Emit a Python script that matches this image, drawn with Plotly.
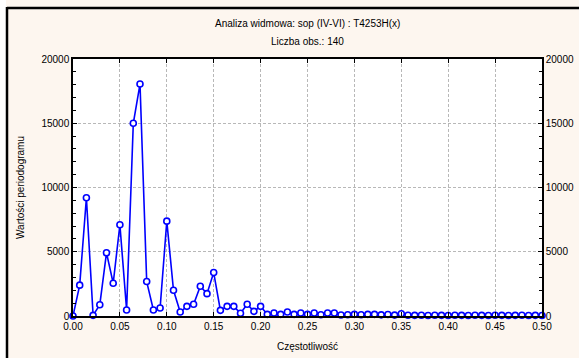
import plotly.graph_objects as go

N_OBS = 140
harmonics = list(range(0, 71))
periodogram = [
    0, 2400, 9200, 50, 880, 4920, 2550, 7100, 470, 15000,
    18050, 2680, 470, 620, 7380, 2000, 310, 750, 910, 2310,
    1740, 3380, 440, 750, 750, 210, 910, 360, 750, 130,
    230, 130, 310, 130, 230, 130, 230, 100, 230, 230,
    80, 100, 130, 100, 130, 130, 90, 120, 70, 180,
    60, 50, 60, 40, 60, 50, 40, 60, 50, 40,
    60, 50, 40, 60, 50, 40, 50, 60, 40, 50, 40,
]
frequency = [k / N_OBS for k in harmonics]
x_ticks = [i * 0.05 for i in range(11)]
y_ticks = [0, 5000, 10000, 15000, 20000]

title_1 = "Analiza widmowa: sop (IV-VI) : T4253H(x)"
title_2 = "Liczba obs.: 140"
x_title = "Częstotliwość"
y_title = "Wartości periodogramu"

W, H = 579, 358
L, R, T, B = 73, 37, 59, 42
pw, ph = W - L - R, H - T - B

def px_x(p):
    return (p - L) / pw

def px_y(p):
    return (H - B - p) / ph

font = dict(family="Liberation Sans, Arial, sans-serif", size=10, color="#000000")

fig = go.Figure()
fig.add_trace(go.Scatter(
    x=frequency, y=periodogram, mode="lines+markers",
    line=dict(color="#0000FF", width=1.6),
    marker=dict(symbol="circle", size=6, color="#FFFFFF",
                line=dict(color="#0000FF", width=1.6)),
    cliponaxis=False, showlegend=False,
))
fig.add_trace(go.Scatter(x=[0], y=[0], yaxis="y2", mode="markers",
                         marker=dict(opacity=0), showlegend=False, hoverinfo="skip"))

axis_common = dict(showline=True, linecolor="#000000", linewidth=1.5,
                   ticks="inside", ticklen=4, tickcolor="#000000", tickwidth=1,
                   zeroline=False, tickfont=font, automargin=False)

fig.update_layout(
    width=W, height=H,
    margin=dict(l=L, r=R, t=T, b=B),
    paper_bgcolor="#FDF6EF", plot_bgcolor="#FFFFFF",
    font=font,
    xaxis=dict(range=[0, 0.5], tickvals=x_ticks, tickformat=".2f", mirror="ticks",
               showgrid=True, gridcolor="#B8B8B8", griddash="3px,2px", gridwidth=1,
               title=dict(text=x_title, font=font, standoff=12),
               **axis_common),
    yaxis=dict(range=[0, 20000], tickvals=y_ticks, tickformat="d", mirror=True,
               showgrid=True, gridcolor="#B8B8B8", griddash="3px,2px", gridwidth=1,
               minor=dict(dtick=1000, ticks="inside", ticklen=3, tickcolor="#000000", showgrid=False),
               title=dict(text=y_title, font=font, standoff=15),
               **axis_common),
    yaxis2=dict(range=[0, 20000], tickvals=y_ticks, tickformat="d", overlaying="y", side="right",
                showgrid=False,
                minor=dict(dtick=1000, ticks="inside", ticklen=3, tickcolor="#000000", showgrid=False),
                **axis_common),
    annotations=[
        dict(text=title_1, xref="paper", yref="paper", x=0.5, y=px_y(23), showarrow=False,
             xanchor="center", yanchor="middle", font=font),
        dict(text=title_2, xref="paper", yref="paper", x=0.5, y=px_y(41), showarrow=False,
             xanchor="center", yanchor="middle", font=font),
    ],
    shapes=[
        dict(type="rect", xref="paper", yref="paper", x0=px_x(-5), x1=px_x(W + 5),
             y0=px_y(0), y1=px_y(-5), fillcolor="#FFFFFF", line=dict(width=0), layer="above"),
        dict(type="rect", xref="paper", yref="paper", x0=px_x(-5), x1=px_x(6),
             y0=px_y(-5), y1=px_y(H + 5), fillcolor="#FFFFFF", line=dict(width=0), layer="above"),
        dict(type="line", xref="paper", yref="paper", x0=px_x(7), x1=px_x(W + 5),
             y0=px_y(8), y1=px_y(8), line=dict(color="#000000", width=2.5), layer="above"),
        dict(type="line", xref="paper", yref="paper", x0=px_x(7), x1=px_x(7),
             y0=px_y(7), y1=px_y(H + 5), line=dict(color="#000000", width=2.5), layer="above"),
    ],
)

fig.write_html("out.html")
